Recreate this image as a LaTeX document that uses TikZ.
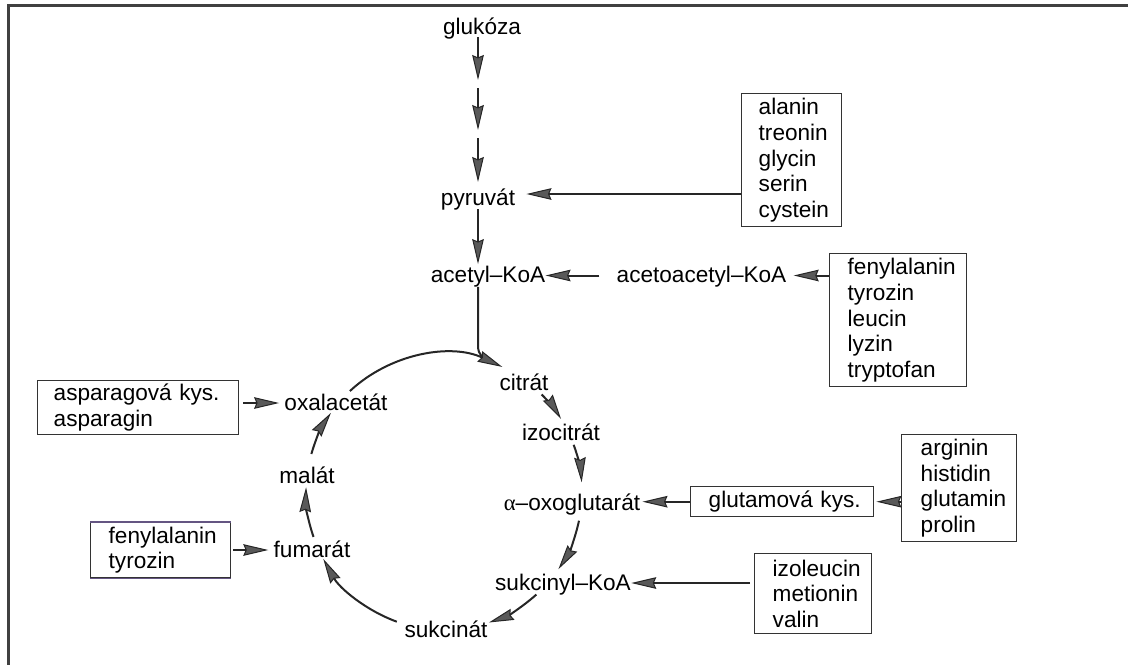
\documentclass[tikz,border=0pt]{standalone}
\usepackage{fontspec}
\setmainfont{Liberation Sans}
\newfontfamily\grk{Liberation Serif}
\usetikzlibrary{arrows.meta,calc}
\definecolor{scanviolet}{RGB}{100,85,130}
\hyphenpenalty=10000
\exhyphenpenalty=10000
\hbadness=10000
\hfuzz=30pt
\begin{document}
\begin{tikzpicture}[x=0.5pt,y=-0.5pt,
  every node/.style={font=\fontsize{11.3}{12.85}\selectfont},
  lab/.style={inner sep=0pt, text height=9pt, text depth=2pt, anchor=base},
  box/.style={draw=black!80, line width=0.7pt, align=left, anchor=north west, inner ysep=0pt},
  arr/.style={draw=black!85, line width=1pt,
    -{Stealth[length=12.5pt,width=5.8pt,inset=1.2pt,fill=black!65,line width=0.5pt]}},
  link/.style={draw=black!85, line width=1pt},
  edgeln/.style={draw=black!75, line width=1.5pt}
]
\useasboundingbox (0,0) rectangle (1128,664);
% page frame (top and left edges)
\draw[edgeln] (1130,5) -- (8,5) -- (8,666);

% metabolite labels
\node[lab] (glukoza)     at (482,34)    {glukóza};
\node[lab] (pyruvat)     at (478,205)   {pyruvát};
\node[lab] (acetyl)      at (488,282.5) {acetyl–KoA};
\node[lab] (acetoacetyl) at (701.5,282.5) {acetoacetyl–KoA};
\node[lab] (citrat)      at (524,390)   {citrát};
\node[lab] (izocitrat)   at (561,440)   {izocitrát};
\node[lab] (alpha)       at (572,510)   {{\grk α}–oxoglutarát};
\node[lab] (sukcinyl)    at (563,590)   {sukcinyl–KoA};
\node[lab] (sukcinat)    at (446,637)   {sukcinát};
\node[lab] (fumarat)     at (312,557)   {fumarát};
\node[lab] (malat)       at (307,483)   {malát};
\node[lab] (oxal)        at (336,410)   {oxalacetát};

% amino acid boxes
\node[box, text width=33pt,   inner xsep=8.5pt, minimum height=66.5pt] (B1) at (741,93)
  {alanin\\treonin\\glycin\\serin\\cystein};
\node[box, text width=50.5pt, inner xsep=9pt,   minimum height=66.5pt] (B2) at (829,253)
  {fenylalanin\\tyrozin\\leucin\\lyzin\\tryptofan};
\node[box, text width=84.5pt, inner xsep=8pt,   minimum height=27pt] (B3) at (37,380)
  {asparagová kys.\\asparagin};
\node[box, text width=52pt,   inner xsep=9pt,   minimum height=27.5pt] (B4) at (90,522)
  {fenylalanin\\tyrozin};
\draw[scanviolet, line width=0.7pt] (B4.north west) -- (B4.north east)
  (B4.south west) -- (B4.south east);
\node[box, text width=73.5pt, inner xsep=9pt,   minimum height=15pt] (B5) at (690,486)
  {glutamová~kys.};
\node[box, text width=38.5pt, inner xsep=9.5pt, minimum height=53.5pt] (B6) at (901,434)
  {arginin\\histidin\\glutamin\\prolin};
\node[box, text width=40.5pt, inner xsep=9pt,   minimum height=40pt] (B7) at (754,553)
  {izoleucin\\metionin\\valin};

% glycolysis steps
\coordinate (g1) at (478,37);
\coordinate (g2) at (478,80);
\coordinate (g3) at (478,88);
\coordinate (g4) at (478,130);
\coordinate (g5) at (478,138);
\coordinate (g6) at (478,182);
\draw[arr] (g1) -- (g2);
\draw[arr] (g3) -- (g4);
\draw[arr] (g5) -- (g6);

% feeders into pyruvate and acetyl-CoA
\coordinate (pin) at ([xshift=5.5pt,yshift=2pt]pyruvat.east);
\draw[arr] (B1.west |- pin) -- (pin);
\draw[arr] (pyruvat.south) -- (pyruvat.south |- acetyl.north);
\draw[arr, shorten <=8.5pt] (acetoacetyl.west) -- (acetyl.east);
\draw[arr, shorten >=3.5pt] (B2.west |- acetoacetyl.east) -- (acetoacetyl.east);

% citric acid cycle
\coordinate (C) at (444,492);
\coordinate (jn) at ($(C)+(-70:138)$);
\draw[link] ([xshift=-5pt]acetyl.south) -- (478,346)
  .. controls (478,355) and ($(jn)+(-7.5,-2.7)$) .. (jn);
\draw[arr] ($(C)+(-133:138)$) arc[start angle=-133, end angle=-65, radius=138];
\draw[arr] ($(C)+(-45:138)$)  arc[start angle=-45,  end angle=-32, radius=138];
\draw[arr] ($(C)+(-20:138)$)  arc[start angle=-20,  end angle=-4,  radius=138];
\draw[arr] ($(C)+(12:138)$)   arc[start angle=12,   end angle=34,  radius=138];
\draw[arr] ($(C)+(48:138)$)   arc[start angle=48,   end angle=71,  radius=138];
\draw[arr] ($(C)+(110:138)$)  arc[start angle=110,  end angle=151, radius=138];
\draw[arr] ($(C)+(161:138)$)  arc[start angle=161,  end angle=182, radius=138];
\draw[arr] ($(C)+(196:138)$)  arc[start angle=196,  end angle=215, radius=138];

% feeders into the cycle
\draw[arr, shorten <=2pt, shorten >=2.5pt] (B3.east |- oxal.west) -- (oxal.west);
\draw[arr, shorten <=1pt, shorten >=2.5pt] (B4.east |- fumarat.west) -- (fumarat.west);
\draw[arr, shorten >=1pt] (B5.west) -- (B5.west -| alpha.east);
\draw[arr, shorten >=1pt] (B6.west |- B5.east) -- (B5.east);
\draw[arr, shorten <=2pt] (B7.west |- sukcinyl.east) -- (sukcinyl.east);
\end{tikzpicture}
\end{document}
